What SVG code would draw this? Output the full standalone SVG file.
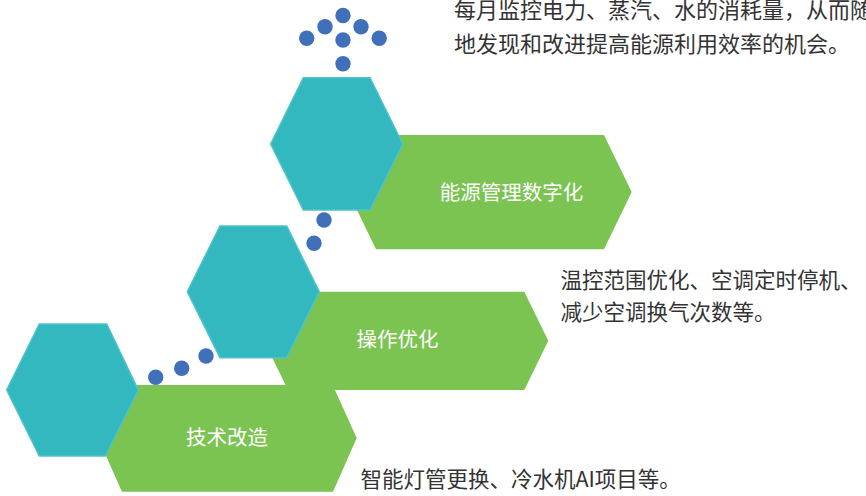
<svg xmlns="http://www.w3.org/2000/svg" width="866" height="496" viewBox="0 0 866 496">
  <style>
    .arrow { fill: #7BC452; }
    .hex { fill: #33B8C0; stroke: #4CC3CC; stroke-width: 1.5; }
    .dot { fill: #4070BA; }
    .label { font-family: "Noto Sans CJK SC", "Noto Sans", sans-serif; font-size: 20.5px; fill: #FFFFFF; text-anchor: middle; }
    .desc { font-family: "Noto Sans CJK SC", "Noto Sans", sans-serif; fill: #333333; }
  </style>
  <rect x="0" y="0" width="866" height="496" fill="#FFFFFF"/>

  <g id="node-digital">
    <polygon class="arrow" points="376,135 604,135 631.7,192 604,249.3 376,249.3 348.3,192"/>
    <polygon class="hex" points="303.3,77.7 370,77.7 402.7,144 370,210 303.3,210 270.7,144"/>
    <text class="label" x="511.5" y="199.8">能源管理数字化</text>
  </g>

  <g id="node-operation">
    <polygon class="arrow" points="288,291.7 524.3,291.7 548.3,340.7 524.3,390 288,390 264,340.7"/>
    <polygon class="hex" points="220,226 286.7,226 319.3,291.7 286.7,357.7 220,357.7 187.3,291.7"/>
    <text class="label" x="397.5" y="346.6">操作优化</text>
  </g>

  <g id="node-tech">
    <polygon class="arrow" points="122,385 332.7,385 356.7,438 333,491.7 122,491.7 98,438"/>
    <polygon class="hex" points="39.3,324 106.7,324 138.3,390 105.3,456 39.3,456 6.7,390"/>
    <text class="label" x="227" y="445">技术改造</text>
  </g>

  <g id="desc-digital">
    <text class="desc" font-size="22" x="454" y="17.5">每月监控电力、蒸汽、水的消耗量，从而随时</text>
    <text class="desc" font-size="22" x="454" y="52">地发现和改进提高能源利用效率的机会。</text>
  </g>
  <g id="desc-operation">
    <text class="desc" font-size="21.5" x="560.5" y="288.3">温控范围优化、空调定时停机、</text>
    <text class="desc" font-size="21.5" x="560.5" y="320">减少空调换气次数等。</text>
  </g>
  <g id="desc-tech">
    <text class="desc" font-size="21.5" x="360.5" y="486.6">智能灯管更换、冷水机AI项目等。</text>
  </g>

  <g id="connectors">
    <circle class="dot" cx="343" cy="15.5" r="7.7"/>
    <circle class="dot" cx="325" cy="26.7" r="7.7"/>
    <circle class="dot" cx="361" cy="26.7" r="7.7"/>
    <circle class="dot" cx="306.7" cy="38.3" r="7.7"/>
    <circle class="dot" cx="343" cy="40" r="7.7"/>
    <circle class="dot" cx="379.2" cy="38.3" r="7.7"/>
    <circle class="dot" cx="343" cy="63.8" r="7.7"/>
    <circle class="dot" cx="324" cy="220" r="7.7"/>
    <circle class="dot" cx="314" cy="243.3" r="7.7"/>
    <circle class="dot" cx="155.7" cy="377.3" r="7.7"/>
    <circle class="dot" cx="181.7" cy="368.3" r="7.7"/>
    <circle class="dot" cx="206" cy="356" r="7.7"/>
  </g>
</svg>
